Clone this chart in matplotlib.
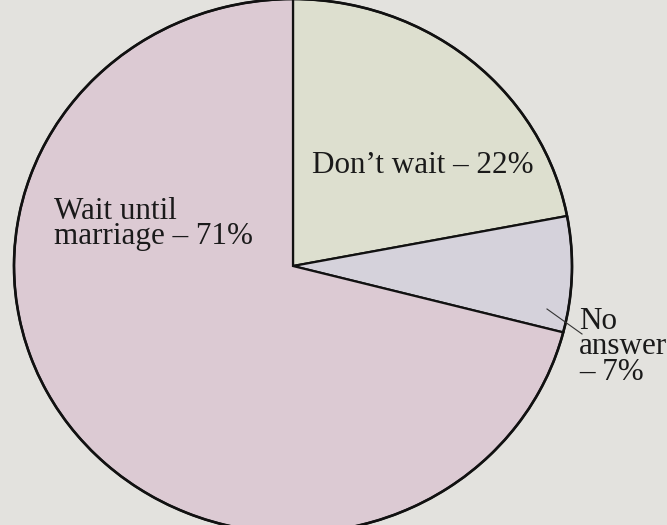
import numpy as np
import matplotlib.pyplot as plt

# Survey answers, drawn clockwise from 12 o'clock
answers = ["Don\u2019t wait", "No\nanswer", "Wait until\nmarriage"]
shares = [22, 7, 71]
slice_colors = ["#dddfcf", "#d5d2db", "#dccad3"]
paper = "#e3e2de"

W, H = 667, 525
cx, cy = 293, 266          # pie centre in pixels
rx, ry = 279, 267          # printed pie is slightly squashed


def fig_xy(px, py):
    """Pixel position (origin top-left) -> figure fraction."""
    return px / W, 1 - py / H


fig = plt.figure(figsize=(W / 100, H / 100), dpi=100, facecolor=paper)
ax = fig.add_axes([0, 0, 1, 1])
ax.set_facecolor(paper)

wedges, _ = ax.pie(
    shares,
    colors=slice_colors,
    startangle=90,
    counterclock=False,
    radius=1,
    wedgeprops=dict(edgecolor="#111111", linewidth=1.6),
)
ax.add_patch(plt.Circle((0, 0), 1, fill=False, edgecolor="#111111", linewidth=1.9))

# stretch unit circle to the printed ellipse
ax.set_aspect("auto")
ax.set_xlim(-cx / rx, (W - cx) / rx)
ax.set_ylim(-(H - cy) / ry, cy / ry)
ax.axis("off")

serif = ["Liberation Serif", "DejaVu Serif"]
txt = dict(family=serif, fontsize=22.4, color="#1a1a1a", linespacing=0.86,
           transform=fig.transFigure)

fig.text(*fig_xy(312, 166), f"{answers[0]} \u2013 {shares[0]}%",
         ha="left", va="center", **txt)
fig.text(*fig_xy(54, 224), f"{answers[2]} \u2013 {shares[2]}%",
         ha="left", va="center", **txt)
fig.text(*fig_xy(579, 347), f"{answers[1]}\n\u2013 {shares[1]}%",
         ha="left", va="center", **txt)

# leader line for the thin slice
x0, y0 = fig_xy(547, 309)
x1, y1 = fig_xy(582, 334)
fig.add_artist(plt.Line2D([x0, x1], [y0, y1], color="#333333", linewidth=0.8,
                          transform=fig.transFigure))

fig.savefig("out.png", dpi=100, facecolor=paper)
